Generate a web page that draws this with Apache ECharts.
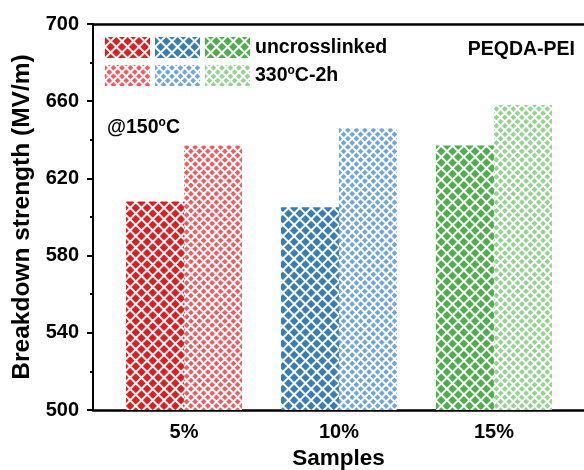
<!DOCTYPE html>
<html>
<head>
<meta charset="utf-8">
<script src="https://cdn.jsdelivr.net/npm/echarts@6/dist/echarts.min.js"></script>
<style>html,body{margin:0;padding:0;background:#fff}#c{width:584px;height:470px}</style>
</head>
<body>
<div id="c"></div>
<script>
const categories = ['5%', '10%', '15%'];
const uncrosslinked = [608, 605, 637];
const crosslinked = [637, 646, 658];
const yTicks = [500, 540, 580, 620, 660, 700];
const darkColors = ['#e41a1c', '#377eb8', '#4daf4a'];
const lightColors = ['#f25a5e', '#6ea5da', '#92d48e'];
const seriesNamesU = ['u5', 'u10', 'u15'];
const seriesNamesX = ['x5', 'x10', 'x15'];

const FONT = 'Liberation Sans, Arial, sans-serif';

function decalDark(c) {
  return {symbol: 'rect', symbolSize: 1, color: c, dashArrayX: [[6, 1.5]], dashArrayY: [6, 1.5], rotation: Math.PI / 4};
}
function decalLight(c) {
  return {symbol: 'rect', symbolSize: 1, color: c, dashArrayX: [[3.6, 1.2]], dashArrayY: [3.6, 1.2], rotation: Math.PI / 4};
}

const series = [];
for (let i = 0; i < categories.length; i++) {
  series.push({
    name: seriesNamesU[i], type: 'bar', stack: 'u', barWidth: 58, barGap: '0%',
    itemStyle: {color: '#ffffff', decal: decalDark(darkColors[i])},
    data: categories.map((c, j) => [j + 1, j === i ? uncrosslinked[j] : null])
  });
}
for (let i = 0; i < categories.length; i++) {
  series.push({
    name: seriesNamesX[i], type: 'bar', stack: 'x', barWidth: 58, barGap: '0%',
    itemStyle: {color: '#ffffff', decal: decalLight(lightColors[i])},
    data: categories.map((c, j) => [j + 1, j === i ? crosslinked[j] : null])
  });
}

const rich = {sup: {fontSize: 12, fontWeight: 'bold', fontFamily: FONT, color: '#000', padding: [0, 0, 9, 0]}};
const legendText = {fontSize: 19.5, fontWeight: 'bold', fontFamily: FONT, color: '#000', rich: rich};

const chart = echarts.init(document.getElementById('c'), null, {renderer: 'canvas'});
chart.setOption({
  animation: false,
  backgroundColor: '#fff',
  grid: {left: 93, right: 0, top: 24, bottom: 60, containLabel: false, outerBoundsMode: 'none'},
  xAxis: [{
    type: 'value', min: 0.413, max: 3.581,
    axisLine: {show: true, lineStyle: {color: '#000', width: 2.5}},
    axisTick: {show: false},
    splitLine: {show: false},
    axisLabel: {
      customValues: [1, 2, 3], margin: 12,
      formatter: v => categories[Math.round(v) - 1] || '',
      fontSize: 20, fontWeight: 'bold', fontFamily: FONT, color: '#000'
    },
    name: 'Samples', nameLocation: 'middle', nameGap: 37,
    nameTextStyle: {fontSize: 22.5, fontWeight: 'bold', fontFamily: FONT, color: '#000'}
  }, {
    type: 'value', position: 'top', min: 0.413, max: 3.581,
    axisLine: {show: true, onZero: false, lineStyle: {color: '#000', width: 2.5}},
    axisTick: {show: false}, axisLabel: {show: false}, splitLine: {show: false}
  }],
  yAxis: {
    type: 'value', min: 500, max: 700, interval: 40,
    axisLine: {show: true, lineStyle: {color: '#000', width: 2}},
    axisTick: {show: true, length: 6, lineStyle: {width: 2, color: '#000'}},
    minorTick: {show: true, splitNumber: 2, length: 3, lineStyle: {width: 2, color: '#000'}},
    splitLine: {show: false},
    axisLabel: {margin: 14, fontSize: 20, fontWeight: 'bold', fontFamily: FONT, color: '#000'},
    name: 'Breakdown strength (MV/m)', nameLocation: 'middle', nameGap: 56,
    nameTextStyle: {fontSize: 24.5, fontWeight: 'bold', fontFamily: FONT, color: '#000'}
  },
  legend: [{
    data: seriesNamesU, left: 105, top: 37, orient: 'horizontal',
    icon: 'rect', itemWidth: 45, itemHeight: 21, itemGap: 5, padding: 0,
    formatter: n => n === 'u15' ? 'uncrosslinked' : '',
    textStyle: legendText, selectedMode: false
  }, {
    data: seriesNamesX, left: 105, top: 65, orient: 'horizontal',
    icon: 'rect', itemWidth: 45, itemHeight: 21, itemGap: 5, padding: 0,
    formatter: n => n === 'x15' ? '330{sup|o}C-2h' : '',
    textStyle: legendText, selectedMode: false
  }],
  graphic: [{
    type: 'text', left: 107, top: 117,
    style: {text: '@150{sup|o}C', font: 'bold 19.5px ' + FONT, fill: '#000', rich: rich}
  }, {
    type: 'text', right: 9, top: 40,
    style: {text: 'PEQDA-PEI', font: 'bold 19.5px ' + FONT, fill: '#000'}
  }],
  series: series
});
</script>
</body>
</html>
